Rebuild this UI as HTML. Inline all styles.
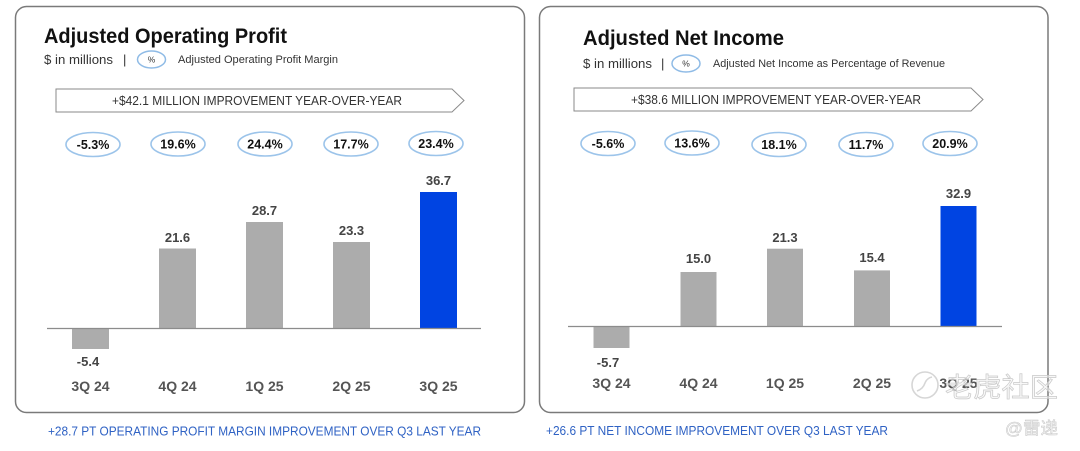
<!DOCTYPE html>
<html>
<head>
<meta charset="utf-8">
<style>
  html,body{margin:0;padding:0;background:#fff;}
  body{width:1080px;height:451px;overflow:hidden;}
  svg{display:block;}
  text{font-family:"Liberation Sans", "Noto Sans CJK SC", sans-serif;}
</style>
</head>
<body>
<svg width="1080" height="451" viewBox="0 0 1080 451" xmlns="http://www.w3.org/2000/svg">
  <rect x="0" y="0" width="1080" height="451" fill="#fff"/>

  <!-- ================= LEFT PANEL ================= -->
  <rect x="15.5" y="6.5" width="509" height="406" rx="11" ry="11" fill="#fff" stroke="#7a7a7a" stroke-width="1.5"/>

  <text x="44" y="43" font-size="21" font-weight="bold" fill="#111" textLength="243" lengthAdjust="spacingAndGlyphs">Adjusted Operating Profit</text>
  <text x="44" y="64" font-size="13" fill="#333" textLength="69" lengthAdjust="spacingAndGlyphs">$ in millions</text>
  <text x="123" y="64" font-size="13" fill="#333">|</text>
  <ellipse cx="151.5" cy="59.5" rx="14" ry="8.5" fill="#fff" stroke="#8fbbe6" stroke-width="1.5"/>
  <text x="151.5" y="62.5" font-size="8.5" fill="#333" text-anchor="middle">%</text>
  <text x="178" y="63" font-size="11" fill="#333" textLength="160" lengthAdjust="spacingAndGlyphs">Adjusted Operating Profit Margin</text>

  <polygon points="56,89 452,89 464,100.5 452,112 56,112" fill="#fff" stroke="#8a8a8a" stroke-width="1"/>
  <text x="257" y="105" font-size="13" fill="#333" text-anchor="middle" textLength="290" lengthAdjust="spacingAndGlyphs">+$42.1 MILLION IMPROVEMENT YEAR-OVER-YEAR</text>

  <g stroke="#9cc4ea" stroke-width="1.6" fill="#fff">
    <ellipse cx="93" cy="144.5" rx="27" ry="12"/>
    <ellipse cx="178" cy="144" rx="27" ry="12"/>
    <ellipse cx="265" cy="144" rx="27" ry="12"/>
    <ellipse cx="351" cy="144" rx="27" ry="12"/>
    <ellipse cx="436" cy="143.5" rx="27" ry="12"/>
  </g>
  <g font-size="12.5" font-weight="bold" fill="#111" text-anchor="middle">
    <text x="93" y="149">-5.3%</text>
    <text x="178" y="148.5">19.6%</text>
    <text x="265" y="148.5">24.4%</text>
    <text x="351" y="148.5">17.7%</text>
    <text x="436" y="148">23.4%</text>
  </g>

  <!-- bars left: axis y=329, scale 3.733 -->
  <rect x="72" y="329" width="37" height="20" fill="#acacac"/>
  <rect x="159" y="248.5" width="37" height="80.5" fill="#acacac"/>
  <rect x="246" y="222" width="37" height="107" fill="#acacac"/>
  <rect x="333" y="242" width="37" height="87" fill="#acacac"/>
  <rect x="420" y="192" width="37" height="137" fill="#0044e2"/>
  <line x1="47" y1="328.5" x2="481" y2="328.5" stroke="#8c8c8c" stroke-width="1.2"/>

  <g font-size="13" font-weight="bold" fill="#444" text-anchor="middle">
    <text x="88" y="366">-5.4</text>
    <text x="177.5" y="242">21.6</text>
    <text x="264.5" y="215">28.7</text>
    <text x="351.5" y="235">23.3</text>
    <text x="438.5" y="185">36.7</text>
  </g>
  <g font-size="14" font-weight="bold" fill="#555" text-anchor="middle">
    <text x="90.5" y="391">3Q 24</text>
    <text x="177.5" y="391">4Q 24</text>
    <text x="264.5" y="391">1Q 25</text>
    <text x="351.5" y="391">2Q 25</text>
    <text x="438.5" y="391">3Q 25</text>
  </g>

  <text x="48" y="435.5" font-size="13" fill="#2f62c4" textLength="433" lengthAdjust="spacingAndGlyphs">+28.7 PT OPERATING PROFIT MARGIN IMPROVEMENT OVER Q3 LAST YEAR</text>

  <!-- ================= RIGHT PANEL ================= -->
  <rect x="539.5" y="6.5" width="508.5" height="406" rx="11" ry="11" fill="#fff" stroke="#7a7a7a" stroke-width="1.5"/>

  <text x="583" y="45" font-size="21" font-weight="bold" fill="#111" textLength="201" lengthAdjust="spacingAndGlyphs">Adjusted Net Income</text>
  <text x="583" y="68" font-size="13" fill="#333" textLength="69" lengthAdjust="spacingAndGlyphs">$ in millions</text>
  <text x="661" y="68" font-size="13" fill="#333">|</text>
  <ellipse cx="686" cy="63.5" rx="14" ry="8.5" fill="#fff" stroke="#8fbbe6" stroke-width="1.5"/>
  <text x="686" y="66.5" font-size="8.5" fill="#333" text-anchor="middle">%</text>
  <text x="713" y="67" font-size="11" fill="#333" textLength="232" lengthAdjust="spacingAndGlyphs">Adjusted Net Income as Percentage of Revenue</text>

  <polygon points="574,88 971,88 983,99.5 971,111 574,111" fill="#fff" stroke="#8a8a8a" stroke-width="1"/>
  <text x="776" y="104" font-size="13" fill="#333" text-anchor="middle" textLength="290" lengthAdjust="spacingAndGlyphs">+$38.6 MILLION IMPROVEMENT YEAR-OVER-YEAR</text>

  <g stroke="#9cc4ea" stroke-width="1.6" fill="#fff">
    <ellipse cx="608" cy="143.5" rx="27" ry="12"/>
    <ellipse cx="692" cy="143" rx="27" ry="12"/>
    <ellipse cx="779" cy="144.5" rx="27" ry="12"/>
    <ellipse cx="866" cy="144.5" rx="27" ry="12"/>
    <ellipse cx="950" cy="143.5" rx="27" ry="12"/>
  </g>
  <g font-size="12.5" font-weight="bold" fill="#111" text-anchor="middle">
    <text x="608" y="148">-5.6%</text>
    <text x="692" y="147.5">13.6%</text>
    <text x="779" y="149">18.1%</text>
    <text x="866" y="149">11.7%</text>
    <text x="950" y="148">20.9%</text>
  </g>

  <!-- bars right: axis y=327, scale 3.678 -->
  <rect x="593.5" y="327" width="36" height="21" fill="#acacac"/>
  <rect x="680.5" y="272" width="36" height="55" fill="#acacac"/>
  <rect x="767" y="248.7" width="36" height="78.3" fill="#acacac"/>
  <rect x="854" y="270.4" width="36" height="56.6" fill="#acacac"/>
  <rect x="940.5" y="206" width="36" height="121" fill="#0044e2"/>
  <line x1="568" y1="326.5" x2="1002" y2="326.5" stroke="#8c8c8c" stroke-width="1.2"/>

  <g font-size="13" font-weight="bold" fill="#444" text-anchor="middle">
    <text x="608" y="367">-5.7</text>
    <text x="698.5" y="263">15.0</text>
    <text x="785" y="242">21.3</text>
    <text x="872" y="262">15.4</text>
    <text x="958.5" y="198">32.9</text>
  </g>
  <g font-size="14" font-weight="bold" fill="#555" text-anchor="middle">
    <text x="611.5" y="388">3Q 24</text>
    <text x="698.5" y="388">4Q 24</text>
    <text x="785" y="388">1Q 25</text>
    <text x="872" y="388">2Q 25</text>
    <text x="958.5" y="388">3Q 25</text>
  </g>

  <text x="546" y="435" font-size="13" fill="#2f62c4" textLength="342" lengthAdjust="spacingAndGlyphs">+26.6 PT NET INCOME IMPROVEMENT OVER Q3 LAST YEAR</text>

  <!-- watermark -->
  <g>
    <circle cx="925" cy="385" r="13" fill="none" stroke="#d6d6d6" stroke-width="1.6"/>
    <path d="M917 391 q6 -2 8 -8 q2 -5 7 -6" fill="none" stroke="#d6d6d6" stroke-width="1.6"/>
    <text x="945" y="397" font-size="27" fill="#f4f4f4" fill-opacity="0.6" stroke="#c9c9c9" stroke-width="0.7" font-family="Noto Sans CJK SC, sans-serif" textLength="113" lengthAdjust="spacingAndGlyphs">老虎社区</text>
    <text x="1005" y="434" font-size="17" fill="#f4f4f4" stroke="#c6c6c6" stroke-width="0.5" font-family="Noto Sans CJK SC, sans-serif" textLength="53" lengthAdjust="spacingAndGlyphs">@雷递</text>
  </g>
</svg>
</body>
</html>
